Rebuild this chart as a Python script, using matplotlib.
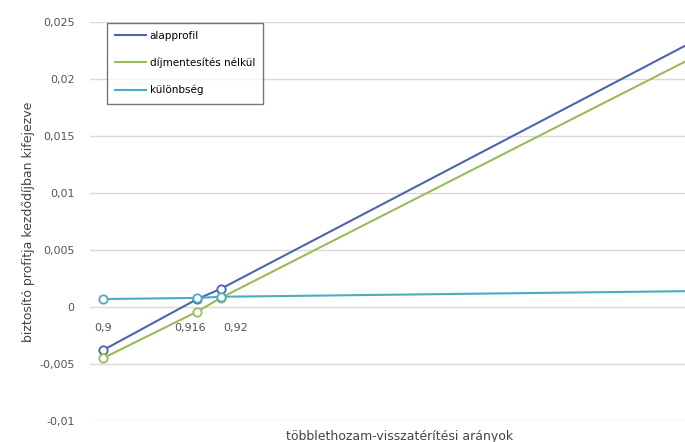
import matplotlib.pyplot as plt
from matplotlib.ticker import FuncFormatter

# values
ratios = [0.9, 0.916, 0.92, 1.0]
base_profit = [-0.0038, 0.0007, 0.0016, 0.0233]
no_fee_waiver = [-0.0045, -0.0004, 0.0008, 0.0219]
difference = [0.0007, 0.0008, 0.0009, 0.0014]
point_labels = ["0,9", "0,916", "0,92"]

series_names = ["alapprofil", "díjmentesítés nélkül", "különbség"]
colors = ["#4a66ac", "#9bbb59", "#4bacc6"]
label_shift = [0, -5, 11]  # horizontal nudge of the point labels, in points

fig = plt.figure(figsize=(6.85, 4.42), dpi=100)
ax = fig.add_axes([0.131, 0.0475, 0.869, 0.9025])

for vals, name, c in zip([base_profit, no_fee_waiver, difference], series_names, colors):
    ax.plot(ratios, vals, color=c, lw=1.5, marker="o", ms=6,
            mfc="white", mec=c, mew=1.3, label=name)

for x, lab, dx in zip(ratios[:3], point_labels, label_shift):
    ax.annotate(lab, (x, -0.0018), xytext=(dx, 0), textcoords="offset points",
                ha="center", va="center", fontsize=8, color="#555555")

ax.set_xlim(0.8978, 0.9986)
ax.set_ylim(-0.01, 0.025)
ax.set_yticks([-0.01, -0.005, 0, 0.005, 0.01, 0.015, 0.02, 0.025])
ax.yaxis.set_major_formatter(FuncFormatter(
    lambda v, p: "0" if abs(v) < 1e-12 else ("%g" % v).replace(".", ",")))
ax.set_xticks([])
ax.grid(axis="y", color="#d9d9d9", lw=1)
ax.set_axisbelow(True)
for s in ax.spines.values():
    s.set_visible(False)
ax.tick_params(axis="y", length=0, labelsize=8, colors="#555555", pad=11)

ax.set_ylabel("biztosító profitja kezdődíjban kifejezve", fontsize=9, color="#444444", labelpad=3)
ax.set_xlabel("többlethozam-visszatérítési arányok", fontsize=9, color="#444444")
ax.xaxis.set_label_coords(0.52, -0.022)

leg = ax.legend(loc="upper left", bbox_to_anchor=(0.02, 1.012), fontsize=7.5,
                frameon=True, fancybox=False, edgecolor="#555555",
                handlelength=3, handletextpad=0.3, labelspacing=1.6,
                borderpad=0.8)
leg.get_frame().set_linewidth(1.0)
for h in leg.legend_handles:
    h.set_marker("")

fig.savefig("out.png", dpi=100)
